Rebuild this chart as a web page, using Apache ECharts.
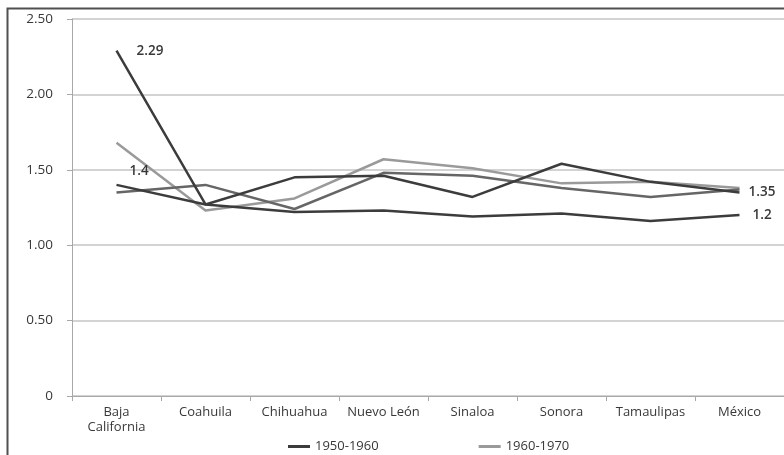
<!DOCTYPE html>
<html>
<head>
<meta charset="utf-8">
<script src="https://cdn.jsdelivr.net/npm/echarts@6/dist/echarts.min.js"></script>
<style>
  html, body { margin: 0; padding: 0; background: #ffffff; }
  #chart { width: 784px; height: 455px; }
</style>
</head>
<body>
<div id="chart"></div>
<script>
// Categories (states) and the growth ratios per series
const categories = ['Baja\nCalifornia', 'Coahuila', 'Chihuahua', 'Nuevo León', 'Sinaloa', 'Sonora', 'Tamaulipas', 'México'];
const legendNames = ['1950-1960', '1960-1970'];
const seriesA = [2.29, 1.27, 1.45, 1.46, 1.32, 1.54, 1.42, 1.35];
const seriesB = [1.4, 1.27, 1.22, 1.23, 1.19, 1.21, 1.16, 1.2];
const seriesC = [1.68, 1.23, 1.31, 1.57, 1.51, 1.41, 1.42, 1.38];
const seriesD = [1.35, 1.40, 1.24, 1.48, 1.46, 1.38, 1.32, 1.37];
const yTicks = [0, 0.5, 1, 1.5, 2, 2.5];

const FONT = '"Open Sans", "Liberation Sans", sans-serif';
const TXT = '#383838';

// Show a value label only on selected points
function pointLabels(values, shown) {
  return values.map((v, i) => {
    if (!shown[i]) return v;
    return {
      value: v,
      label: Object.assign({
        show: true, color: TXT, fontFamily: FONT, fontSize: 13.5, fontWeight: 600,
        formatter: String(v)
      }, shown[i])
    };
  });
}

function lineSeries(name, color, data) {
  return {
    name: name,
    type: 'line',
    data: data,
    symbol: 'circle',
    symbolSize: 0.01,
    showSymbol: true,
    showAllSymbol: true,
    lineStyle: { color: color, width: 2.5 },
    itemStyle: { color: color },
    emphasis: { disabled: true },
    animation: false
  };
}

const chart = echarts.init(document.getElementById('chart'), null, { renderer: 'canvas' });
chart.setOption({
  backgroundColor: '#ffffff',
  graphic: [{
    type: 'rect',
    left: 5, top: 6,
    shape: { width: 820, height: 470 },
    style: { fill: 'none', stroke: '#505050', lineWidth: 2 },
    silent: true,
    z: 100
  }],
  grid: { left: 72, top: 19, width: 718, bottom: 59 },
  legend: {
    data: legendNames,
    left: 283,
    top: 435,
    icon: 'rect',
    itemWidth: 22,
    itemHeight: 3,
    itemGap: 100,
    textStyle: { color: TXT, fontFamily: FONT, fontSize: 13 }
  },
  xAxis: {
    type: 'category',
    data: categories,
    boundaryGap: true,
    axisLine: { lineStyle: { color: '#a8a8a8', width: 1 } },
    axisTick: { show: true, length: 5, lineStyle: { color: '#a8a8a8' } },
    axisLabel: { color: TXT, fontFamily: FONT, fontSize: 13, margin: 9, lineHeight: 15, interval: 0 },
    splitLine: { show: false }
  },
  yAxis: {
    type: 'value',
    min: 0,
    max: 2.5,
    interval: 0.5,
    axisLine: { show: true, lineStyle: { color: '#a8a8a8', width: 1 } },
    axisTick: { show: true, length: 5, lineStyle: { color: '#a8a8a8' } },
    axisLabel: {
      color: TXT, fontFamily: FONT, fontSize: 13.5, margin: 19,
      formatter: v => {
        const t = yTicks.find(k => Math.abs(k - v) < 1e-9);
        return t === 0 ? '0' : t.toFixed(2);
      }
    },
    splitLine: { lineStyle: { color: '#c4c4c4', width: 1.5 } }
  },
  series: [
    lineSeries(legendNames[1], '#9a9a9a', seriesC),
    lineSeries(legendNames[1], '#666666', seriesD),
    lineSeries(legendNames[0], '#3c3c3c', pointLabels(seriesA, { 0: { position: 'right', distance: 20 }, 7: { position: 'right', distance: 9 } })),
    lineSeries(legendNames[0], '#3c3c3c', pointLabels(seriesB, { 0: { position: [13, -21] }, 7: { position: 'right', distance: 13 } }))
  ]
});
</script>
</body>
</html>
